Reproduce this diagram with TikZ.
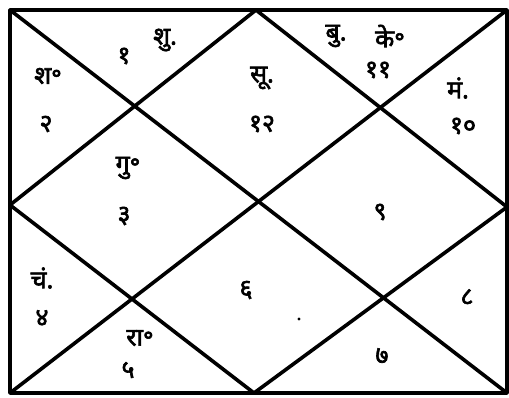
\documentclass[tikz,border=0pt]{standalone}
\usepackage{fontspec}
\newfontfamily\deva[Script=Devanagari,FakeBold=2.5]{Noto Sans}
\begin{document}
\begin{tikzpicture}[x=1pt,y=-1pt,
  chartline/.style={line width=3.6pt,line cap=round,line join=round,black},
  lbl/.style={font=\deva\fontsize{25}{26}\selectfont,inner sep=0pt,anchor=center}]
\useasboundingbox[fill=white] (0,0) rectangle (509,397);
% corners and midpoints
\coordinate (tl) at (10,10);
\coordinate (tr) at (507,10);
\coordinate (br) at (507,393);
\coordinate (bl) at (10,393);
\coordinate (tm) at (256,10);
\coordinate (rm) at (507,207);
\coordinate (bm) at (254,393);
\coordinate (lm) at (10,205);
\draw[chartline] (tl) -- (tr) -- (br) -- (bl) -- cycle;
\draw[chartline] (tl) -- (br);
\draw[chartline] (tr) -- (bl);
\draw[chartline] (tm) -- (rm) -- (bm) -- (lm) -- cycle;
% labels
\node[lbl] (h2a) at (124,56) {१};
\node[lbl] (h2b) at (165,40) {शु.};
\node[lbl] (h3a) at (48,76) {श॰};
\node[lbl] (h3b) at (46,124) {२};
\node[lbl] (h1a) at (262,78) {सू.};
\node[lbl] (h1b) at (262,124) {१२};
\node[lbl] (h12a) at (336,36) {बु.};
\node[lbl] (h12b) at (390,36) {के॰};
\node[lbl] (h12c) at (378,70) {११};
\node[lbl] (h11a) at (458,88) {मं.};
\node[lbl] (h11b) at (463,126) {१०};
\node[lbl] (h4a) at (128,168) {गु॰};
\node[lbl] (h4b) at (124,216) {३};
\node[lbl] (h10) at (380,212) {९};
\node[lbl] (h5a) at (42,278) {चं.};
\node[lbl] (h5b) at (42,318) {४};
\node[lbl] (h6a) at (140,338) {रा॰};
\node[lbl] (h6b) at (128,370) {५};
\node[lbl] (h7) at (246,290) {६};
\node[lbl] (h8) at (382,356) {७};
\node[lbl] (h9) at (467,297) {८};
\fill (299,319) circle (1.6);
\end{tikzpicture}
\end{document}
